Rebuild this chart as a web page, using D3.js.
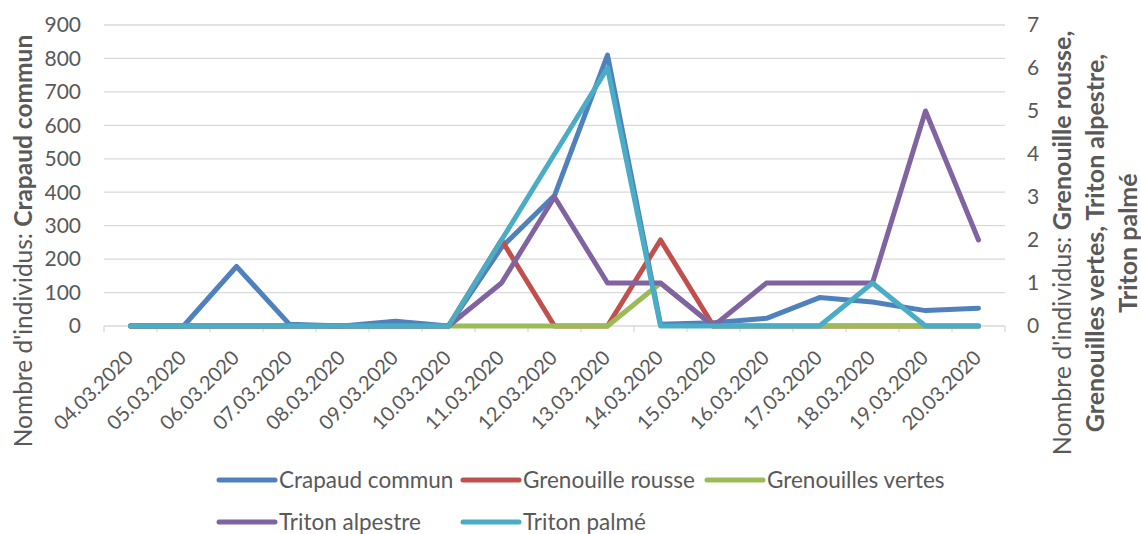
<!DOCTYPE html>
<html lang="fr">
<head>
<meta charset="utf-8">
<title>Comptage amphibiens</title>
<script src="https://cdn.jsdelivr.net/npm/d3@7"></script>
<style>
  body { margin: 0; background: #fff; }
  svg text { font-family: Lato, "Open Sans", sans-serif; fill: #595959; }
</style>
</head>
<body>
<div id="chart"></div>
<script>
// dates (categories)
var dates = ["04.03.2020","05.03.2020","06.03.2020","07.03.2020","08.03.2020","09.03.2020",
  "10.03.2020","11.03.2020","12.03.2020","13.03.2020","14.03.2020","15.03.2020","16.03.2020",
  "17.03.2020","18.03.2020","19.03.2020","20.03.2020"];

// left axis
var crapaud = [0, 0, 178, 5, 0, 14, 0, 235, 390, 810, 5, 10, 23, 85, 72, 46, 53];
// right axis
var rousse   = [0, 0, 0, 0, 0, 0, 0, 2, 0, 0, 2, 0, 0, 0, 0, 0, 0];
var vertes   = [0, 0, 0, 0, 0, 0, 0, 0, 0, 0, 1, 0, 0, 0, 0, 0, 0];
var alpestre = [0, 0, 0, 0, 0, 0, 0, 1, 3, 1, 1, 0, 1, 1, 1, 5, 2];
var palme    = [0, 0, 0, 0, 0, 0, 0, 2, 4, 6, 0, 0, 0, 0, 1, 0, 0];

var leftTicks = [0,100,200,300,400,500,600,700,800,900];
var rightTicks = [0,1,2,3,4,5,6,7];

var series = [
  {name: "Crapaud commun",     values: crapaud,  axis: "left",  color: "#4F81BD"},
  {name: "Grenouille rousse",  values: rousse,   axis: "right", color: "#C0504D"},
  {name: "Grenouilles vertes", values: vertes,   axis: "right", color: "#9BBB59"},
  {name: "Triton alpestre",    values: alpestre, axis: "right", color: "#8064A2"},
  {name: "Triton palmé",       values: palme,    axis: "right", color: "#4BACC6"}
];

var width = 1141, height = 534;
var pLeft = 104, pRight = 1005, pTop = 25, pBottom = 326;

var svg = d3.select("#chart").append("svg")
    .attr("width", width)
    .attr("height", height);

var x = d3.scaleBand().domain(dates).range([pLeft, pRight]).padding(0);
var yL = d3.scaleLinear().domain([0, 900]).range([pBottom, pTop]);
var yR = d3.scaleLinear().domain([0, 7]).range([pBottom, pTop]);

// gridlines
svg.append("g")
  .selectAll("line")
  .data(leftTicks.slice(1))
  .enter().append("line")
    .attr("x1", pLeft).attr("x2", pRight)
    .attr("y1", function(d) { return yL(d); })
    .attr("y2", function(d) { return yL(d); })
    .attr("stroke", "#d9d9d9")
    .attr("stroke-width", 1.3);

// bottom axis line + ticks
var xAxis = svg.append("g");
xAxis.append("line")
  .attr("x1", pLeft).attr("x2", pRight)
  .attr("y1", pBottom).attr("y2", pBottom)
  .attr("stroke", "#d9d9d9").attr("stroke-width", 1.3);
xAxis.selectAll("line.tk")
  .data(dates.concat(["end"]))
  .enter().append("line")
    .attr("class", "tk")
    .attr("x1", function(d, i) { return pLeft + i * x.bandwidth(); })
    .attr("x2", function(d, i) { return pLeft + i * x.bandwidth(); })
    .attr("y1", pBottom).attr("y2", pBottom + 6)
    .attr("stroke", "#d9d9d9").attr("stroke-width", 1.3);

xAxis.selectAll("text")
  .data(dates)
  .enter().append("text")
    .attr("text-anchor", "end")
    .attr("font-size", 20)
    .attr("transform", function(d) {
      return "translate(" + (x(d) + x.bandwidth() / 2 + 4) + "," + 359 + ") rotate(-45)";
    })
    .text(function(d) { return d; });

// left tick labels
svg.append("g")
  .selectAll("text")
  .data(leftTicks)
  .enter().append("text")
    .attr("x", 81)
    .attr("y", function(d) { return yL(d); })
    .attr("dy", "0.35em")
    .attr("text-anchor", "end")
    .attr("font-size", 21)
    .text(function(d) { return d; });

// right tick labels
svg.append("g")
  .selectAll("text")
  .data(rightTicks)
  .enter().append("text")
    .attr("x", 1027)
    .attr("y", function(d) { return yR(d); })
    .attr("dy", "0.35em")
    .attr("font-size", 21)
    .text(function(d) { return d; });

// axis titles
var lt = svg.append("text")
  .attr("transform", "translate(32,241) rotate(-90)")
  .attr("text-anchor", "middle")
  .attr("font-size", 24.5);
lt.append("tspan").text("Nombre d'individus: ");
lt.append("tspan").attr("font-weight", "bold").text("Crapaud commun");

var rt = svg.append("text")
  .attr("transform", "translate(1071,243) rotate(-90)")
  .attr("text-anchor", "middle")
  .attr("font-size", 25);
rt.append("tspan").attr("x", 0).attr("y", 0).text("Nombre d'individus: ")
  .append("tspan").attr("font-weight", "bold").text("Grenouille rousse,");
rt.append("tspan").attr("x", 0).attr("y", 33).attr("font-weight", "bold")
  .text("Grenouilles vertes, Triton alpestre,");
rt.append("tspan").attr("x", 0).attr("y", 66).attr("font-weight", "bold")
  .text("Triton palmé");

// lines
series.forEach(function(s) {
  var ys = s.axis === "left" ? yL : yR;
  var line = d3.line()
    .x(function(d, i) { return x(dates[i]) + x.bandwidth() / 2; })
    .y(function(d) { return ys(d); });
  svg.append("path")
    .datum(s.values)
    .attr("fill", "none")
    .attr("stroke", s.color)
    .attr("stroke-width", 5)
    .attr("stroke-linejoin", "round")
    .attr("stroke-linecap", "round")
    .attr("d", line);
});

// legend
var legX = [219, 463, 707];
var legY = [480, 522];
var leg = svg.append("g")
  .selectAll("g")
  .data(series)
  .enter().append("g")
    .attr("transform", function(d, i) {
      return "translate(" + legX[i % 3] + "," + legY[Math.floor(i / 3)] + ")";
    });
leg.append("line")
  .attr("x1", 0).attr("x2", 56)
  .attr("stroke", function(d) { return d.color; })
  .attr("stroke-width", 5)
  .attr("stroke-linecap", "round");
leg.append("text")
  .attr("x", 60)
  .attr("dy", "0.35em")
  .attr("font-size", 22.5)
  .text(function(d) { return d.name; });
</script>
</body>
</html>
